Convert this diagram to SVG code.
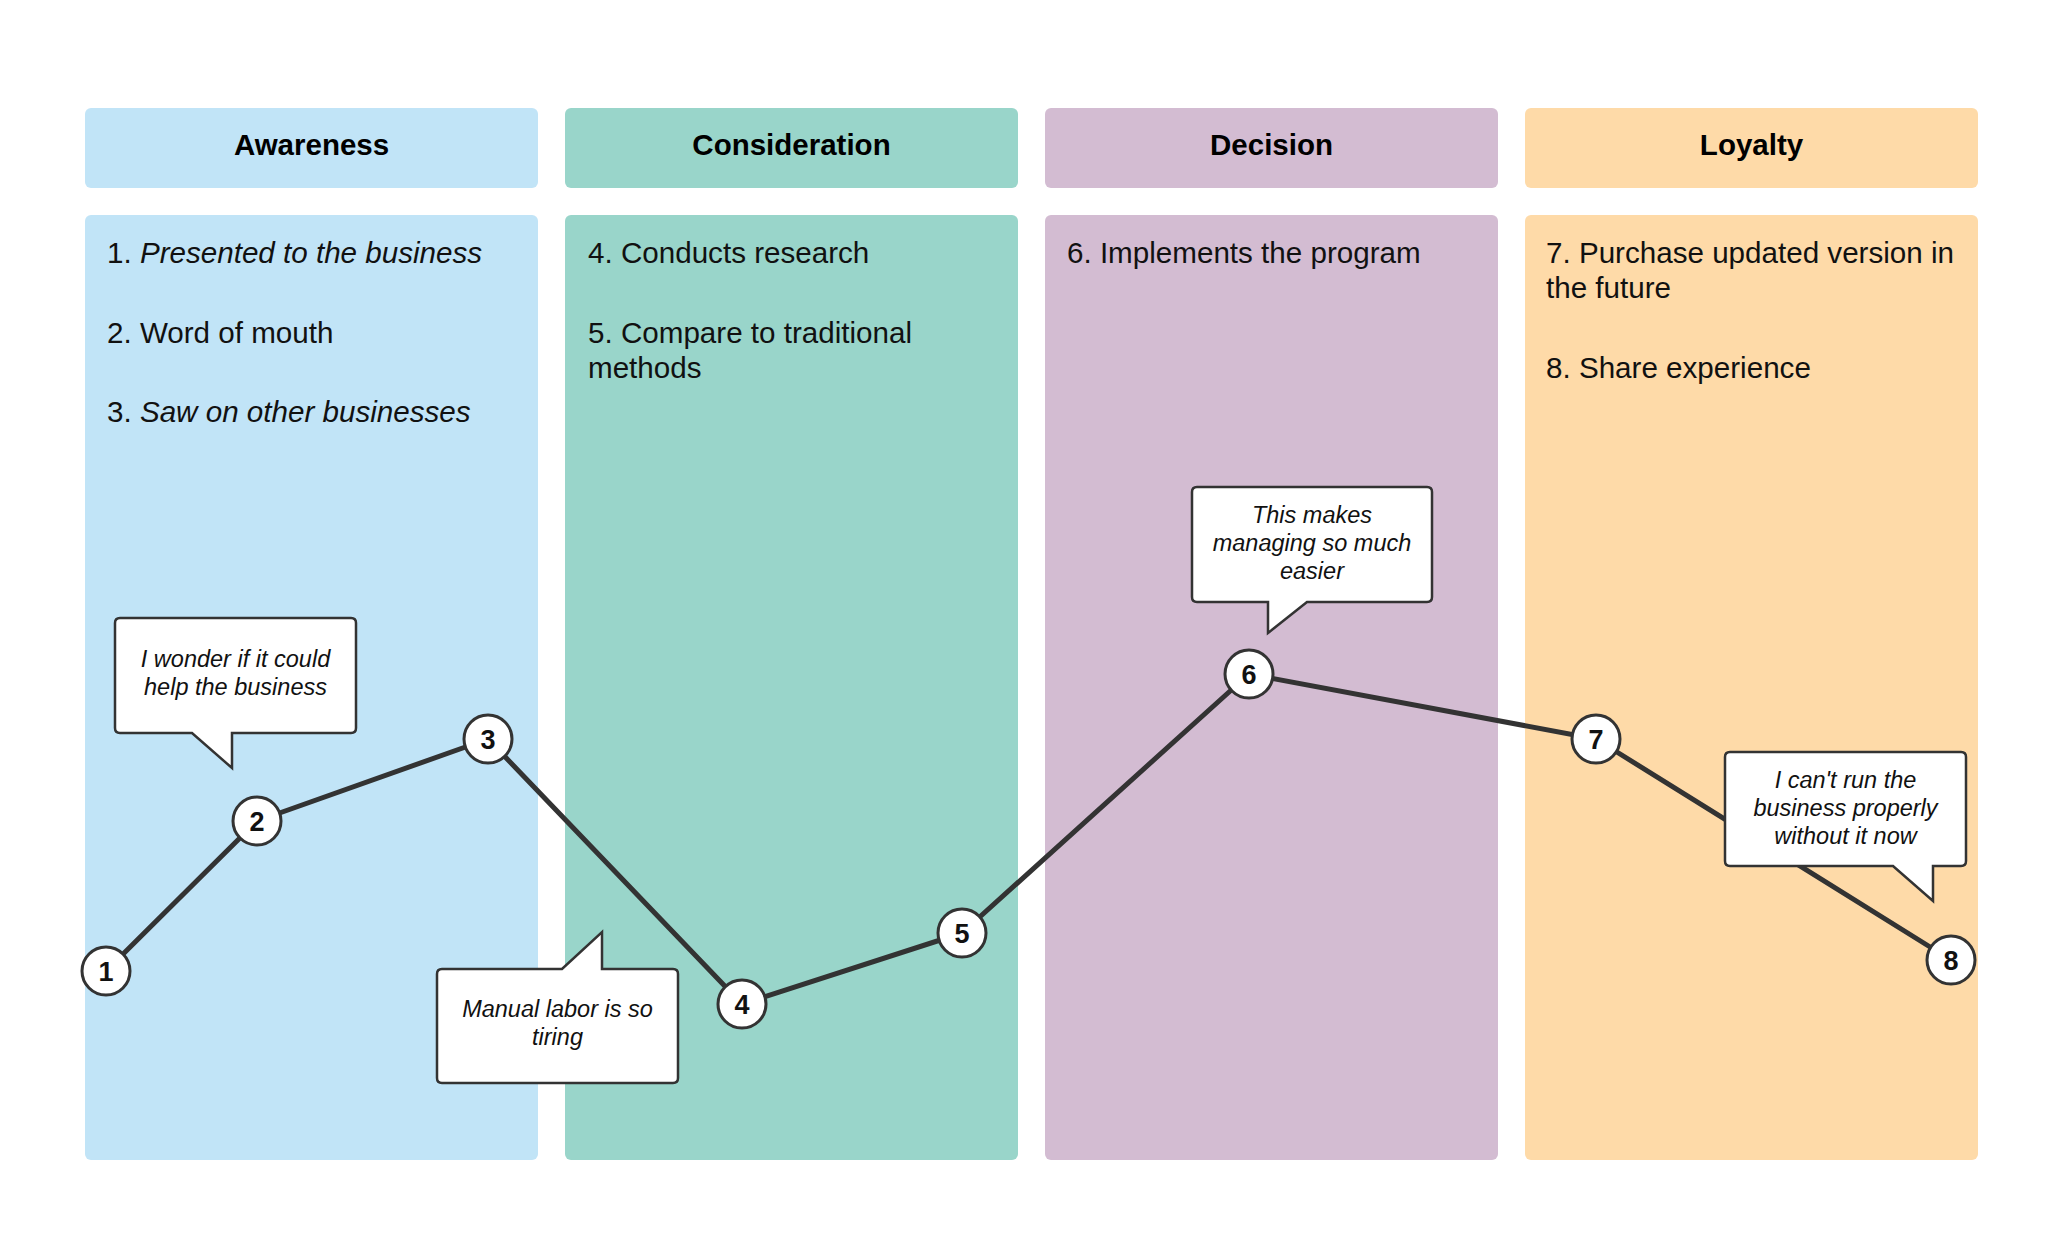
<svg xmlns="http://www.w3.org/2000/svg" width="2048" height="1244" viewBox="0 0 2048 1244">
<style>
.hdr{font-family:"Liberation Sans",Arial,sans-serif;font-size:29.5px;font-weight:bold;fill:#000;text-anchor:middle}
.body{font-family:"Liberation Sans",Arial,sans-serif;font-size:29.6px;fill:#111}
.it{font-style:italic}
.call{fill:#fff;stroke:#333;stroke-width:2.5;stroke-linejoin:miter}
.ct{font-family:"Liberation Sans",Arial,sans-serif;font-size:23.5px;font-style:italic;fill:#111;text-anchor:middle}
.node circle{fill:#fff;stroke:#333;stroke-width:3}
.num{font-family:"Liberation Sans",Arial,sans-serif;font-size:27px;font-weight:bold;fill:#111;text-anchor:middle}
.conn{fill:none;stroke:#333;stroke-width:5;stroke-linejoin:round}
</style>
<rect width="2048" height="1244" fill="#fff"/>
<g id="col-awareness">
<rect x="85" y="108" width="453" height="80" rx="6" fill="#C1E4F7"/>
<text class="hdr" x="311.5" y="155">Awareness</text>
<rect x="85" y="215" width="453" height="945" rx="6" fill="#C1E4F7"/>
<text class="body" x="107" y="263">1. <tspan class="it">Presented to the business</tspan></text>
<text class="body" x="107" y="343">2. Word of mouth</text>
<text class="body" x="107" y="422">3. <tspan class="it">Saw on other businesses</tspan></text>
</g>
<g id="col-consideration">
<rect x="565" y="108" width="453" height="80" rx="6" fill="#99D5CA"/>
<text class="hdr" x="791.5" y="155">Consideration</text>
<rect x="565" y="215" width="453" height="945" rx="6" fill="#99D5CA"/>
<text class="body" x="588" y="263">4. Conducts research</text>
<text class="body" x="588" y="343">5. Compare to traditional</text>
<text class="body" x="588" y="378">methods</text>
</g>
<g id="col-decision">
<rect x="1045" y="108" width="453" height="80" rx="6" fill="#D3BCD2"/>
<text class="hdr" x="1271.5" y="155">Decision</text>
<rect x="1045" y="215" width="453" height="945" rx="6" fill="#D3BCD2"/>
<text class="body" x="1067" y="263">6. Implements the program</text>
</g>
<g id="col-loyalty">
<rect x="1525" y="108" width="453" height="80" rx="6" fill="#FEDAA8"/>
<text class="hdr" x="1751.5" y="155">Loyalty</text>
<rect x="1525" y="215" width="453" height="945" rx="6" fill="#FEDAA8"/>
<text class="body" x="1546" y="263">7. Purchase updated version in</text>
<text class="body" x="1546" y="298">the future</text>
<text class="body" x="1546" y="378">8. Share experience</text>
</g>
<g id="connectors">
<polyline class="conn" points="106,971 257,821 488,739 742,1004 962,933 1249,674 1596,739 1951,960"/>
</g>
<g id="node1" class="node"><circle cx="106" cy="971" r="24"/><text class="num" x="106" y="980.5">1</text></g>
<g id="node2" class="node"><circle cx="257" cy="821" r="24"/><text class="num" x="257" y="830.5">2</text></g>
<g id="node3" class="node"><circle cx="488" cy="739" r="24"/><text class="num" x="488" y="748.5">3</text></g>
<g id="node4" class="node"><circle cx="742" cy="1004" r="24"/><text class="num" x="742" y="1013.5">4</text></g>
<g id="node5" class="node"><circle cx="962" cy="933" r="24"/><text class="num" x="962" y="942.5">5</text></g>
<g id="node6" class="node"><circle cx="1249" cy="674" r="24"/><text class="num" x="1249" y="683.5">6</text></g>
<g id="node7" class="node"><circle cx="1596" cy="739" r="24"/><text class="num" x="1596" y="748.5">7</text></g>
<g id="node8" class="node"><circle cx="1951" cy="960" r="24"/><text class="num" x="1951" y="969.5">8</text></g>
<g id="callout1">
<path class="call" d="M120,618 H351 Q356,618 356,623 V728 Q356,733 351,733 H232 V768 L192,733 H120 Q115,733 115,728 V623 Q115,618 120,618 Z"/>
<text class="ct" x="235.5" y="667">I wonder if it could</text>
<text class="ct" x="235.5" y="695">help the business</text>
</g>
<g id="callout2">
<path class="call" d="M442,969 H562 L602,932 V969 H673 Q678,969 678,974 V1078 Q678,1083 673,1083 H442 Q437,1083 437,1078 V974 Q437,969 442,969 Z"/>
<text class="ct" x="557.5" y="1017">Manual labor is so</text>
<text class="ct" x="557.5" y="1045">tiring</text>
</g>
<g id="callout3">
<path class="call" d="M1197,487 H1427 Q1432,487 1432,492 V597 Q1432,602 1427,602 H1307 L1268,633 V602 H1197 Q1192,602 1192,597 V492 Q1192,487 1197,487 Z"/>
<text class="ct" x="1312" y="523">This makes</text>
<text class="ct" x="1312" y="551">managing so much</text>
<text class="ct" x="1312" y="579">easier</text>
</g>
<g id="callout4">
<path class="call" d="M1730,752 H1961 Q1966,752 1966,757 V861 Q1966,866 1961,866 H1933 V901 L1893,866 H1730 Q1725,866 1725,861 V757 Q1725,752 1730,752 Z"/>
<text class="ct" x="1845.5" y="788">I can't run the</text>
<text class="ct" x="1845.5" y="816">business properly</text>
<text class="ct" x="1845.5" y="844">without it now</text>
</g>
</svg>
